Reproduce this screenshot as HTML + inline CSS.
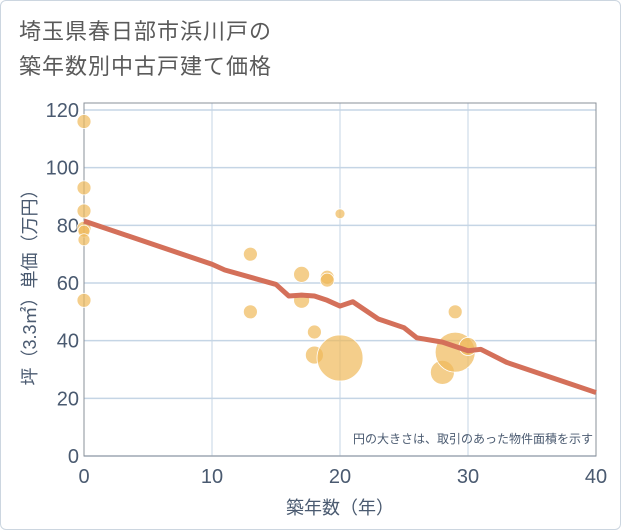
<!DOCTYPE html>
<html><head><meta charset="utf-8"><style>
body{margin:0;background:#fff;}
#wrap{position:relative;width:619px;height:528px;border:1px solid #ccd6e0;border-radius:6px;background:#fff;overflow:hidden;}
#title{position:absolute;left:18px;top:13px;font-family:"Liberation Sans","Noto Sans CJK JP",sans-serif;font-size:22px;line-height:35px;color:#5a5a5a;letter-spacing:1px;}
svg text{font-family:"Liberation Sans","Noto Sans CJK JP",sans-serif;}
</style></head><body>
<div id="wrap">
<div id="title">埼玉県春日部市浜川戸の<br>築年数別中古戸建て価格</div>
<svg id="chart" width="621" height="530" style="position:absolute;left:-1px;top:-1px"></svg>
</div>
<script>
const xTicks=[0,10,20,30,40];
const yTicks=[0,20,40,60,80,100,120];
const ptX=[0,0,0,0,0,0,0,13,13,17,17,18,18,19,19,20,20,28,29,29,30];
const ptY=[116,93,85,79,78,75,54,70,50,63,54,43,35,62,61,84,34,29,50,36,38];
const ptR=[7,7,7,7,6,6,7,7,7,8,8,7,9,7,7,5,23,12,7,20,9];
const lineX=[0,10,11,15,16,17,18,19,20,21,23,25,26,28,30,31,33,40];
const lineY=[81.5,66.5,64.5,59.5,55.5,55.8,55.5,54,52,53.5,47.5,44.5,41,39.5,36.5,37,32.5,22];
const L=84,R=596,T=110,B=456,TOP=103;
const sx=v=>L+(v-0)/(40)*(R-L);
const sy=v=>B-v/120*(B-T);
const svg=document.getElementById('chart');
const NS='http://www.w3.org/2000/svg';
function mk(t,a){const e=document.createElementNS(NS,t);for(const k in a)e.setAttribute(k,a[k]);svg.appendChild(e);return e;}
xTicks.forEach(v=>{
 const g=mk('line',{x1:sx(v),x2:sx(v),y1:TOP,y2:B,stroke:'#c5d5e5','stroke-width':1});
 
 
 const t=mk('text',{x:sx(v),y:B+27,'text-anchor':'middle','font-size':20,fill:'#4a5a70'});t.textContent=v;
 
 
});
yTicks.forEach(v=>{
 const g=mk('line',{x1:L,x2:R,y1:sy(v),y2:sy(v),stroke:'#c5d5e5','stroke-width':1.5});
 
 
 const t=mk('text',{x:L-5,y:sy(v)+7,'text-anchor':'end','font-size':20,fill:'#4a5a70'});t.textContent=v;
 
 
});
const fr=mk('rect',{x:L,y:TOP,width:R-L,height:B-TOP,fill:'none',stroke:'#8a9099','stroke-width':1});


ptX.forEach((x,i)=>{
 const c=mk('circle',{cx:sx(x),cy:sy(ptY[i]),r:ptR[i],fill:'rgba(240,185,90,0.7)',stroke:'#fff','stroke-width':0.8});
 
 
});
const p=mk('polyline',{points:lineX.map((x,i)=>sx(x)+','+sy(lineY[i])).join(' '),fill:'none',stroke:'#d4705a','stroke-width':5,'stroke-linejoin':'round'});


const n=mk('text',{x:R-3,y:B-13,'text-anchor':'end','font-size':12,fill:'#4a5a70'});n.textContent='円の大きさは、取引のあった物件面積を示す';


const xt=mk('text',{x:(L+R)/2,y:514,'text-anchor':'middle','font-size':18,fill:'#4a5a70'});xt.textContent='築年数（年）';


const yt=mk('text',{x:0,y:0,'text-anchor':'middle','font-size':18,fill:'#4a5a70',transform:'translate(36,'+((T+B)/2)+') rotate(-90)'});yt.textContent='坪（3.3㎡）単価（万円）';


</script>
</body></html>
